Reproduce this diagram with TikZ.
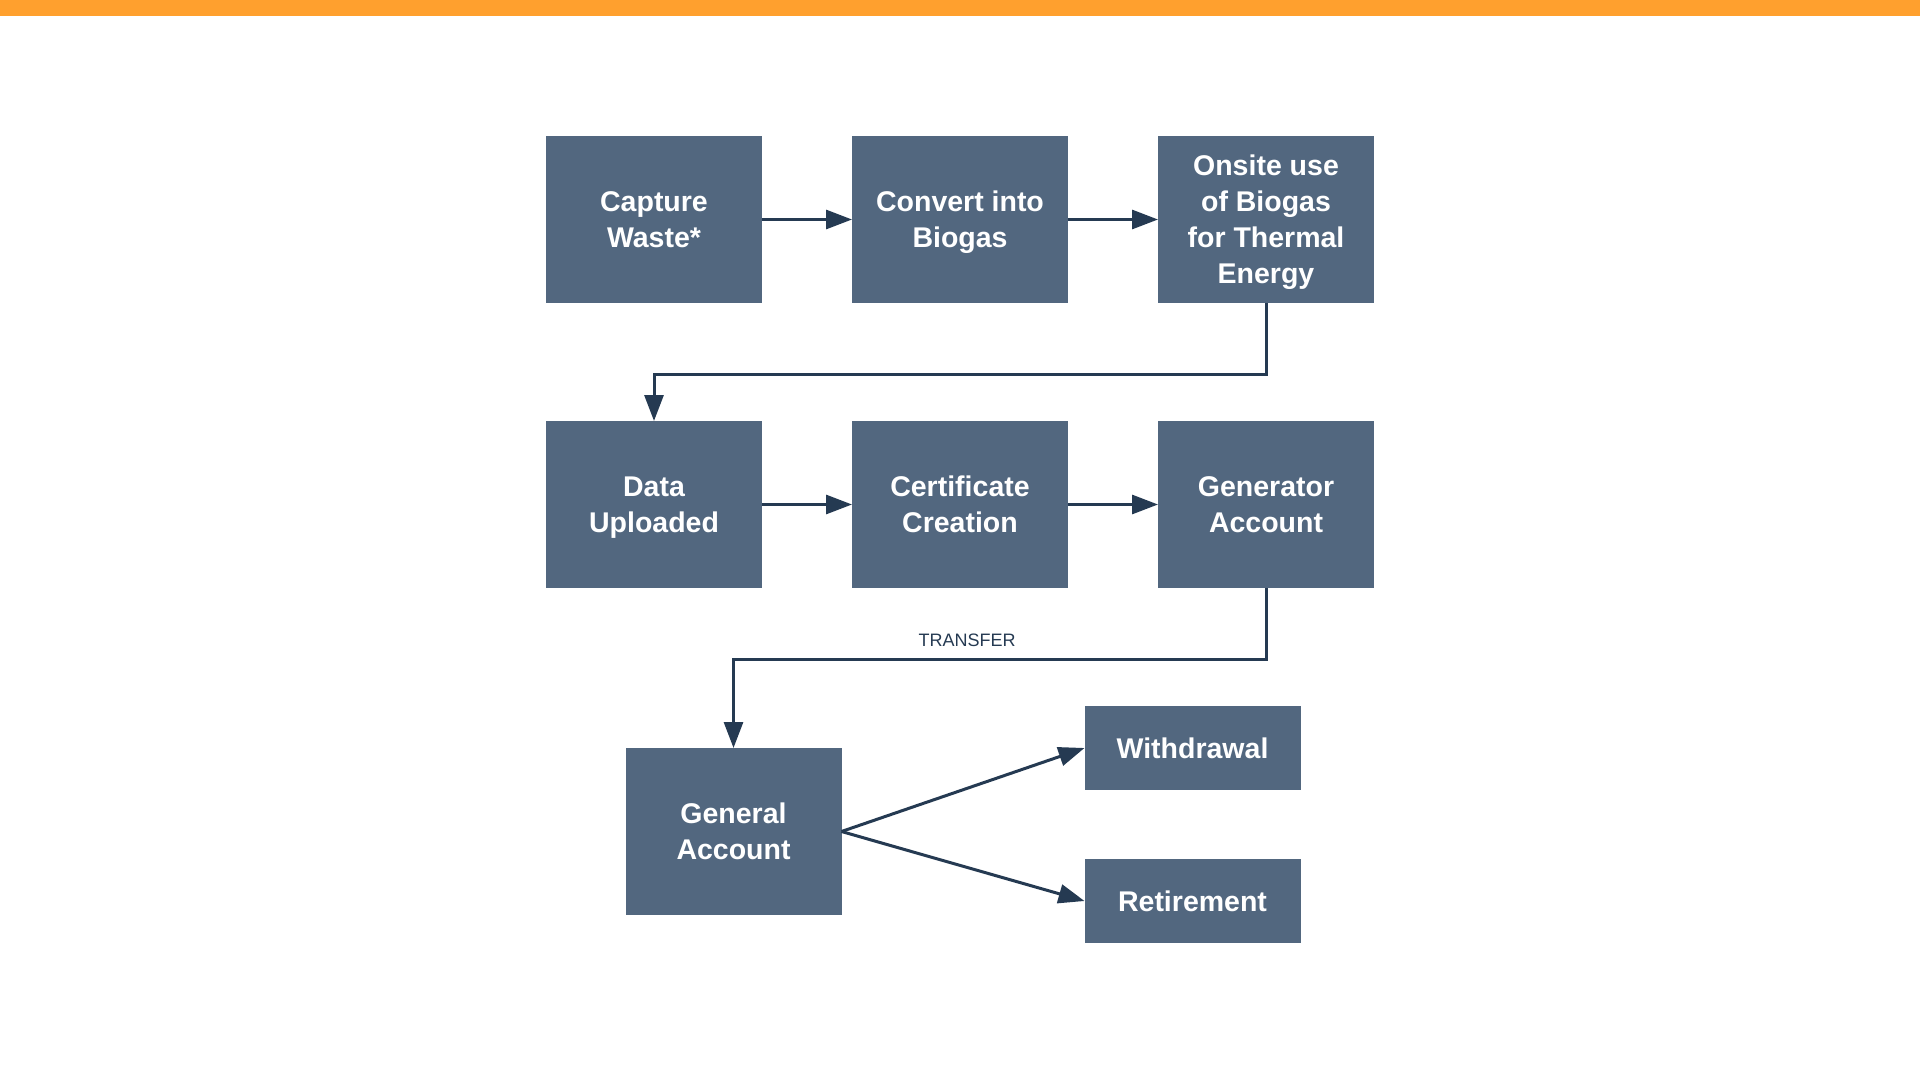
\documentclass[tikz,border=0pt]{standalone}
\usepackage{fontspec}
\setmainfont{Liberation Sans}
\usetikzlibrary{positioning,arrows.meta}
\definecolor{boxfill}{HTML}{52677F}
\definecolor{flowline}{HTML}{253A52}
\definecolor{topbar}{HTML}{FFA02E}

\tikzset{
    stepbox/.style={fill=boxfill, text=white, align=center, minimum width=108pt,
        minimum height=83.5pt, inner sep=0pt, outer sep=0pt, text depth=0pt,
        font=\bfseries\fontsize{14.25pt}{18pt}\selectfont},
    smallbox/.style={stepbox, minimum height=42pt},
    flow/.style={draw=flowline, line width=1.5pt, -{Triangle[length=13pt,width=9.5pt]}}
}

\begin{document}
\begin{tikzpicture}[x=0.5pt,y=-0.5pt]
                    % Frame and top bar
                    \useasboundingbox (0,0) rectangle (1920,1080);
                    \fill[topbar] (0,0) rectangle (1920,16);

                    % Row 1
                    \node[stepbox] (capture) at (654,219.5) {Capture\\Waste*};
                    \node[stepbox, right=45pt of capture] (convert) {Convert into\\Biogas};
                    \node[stepbox, right=45pt of convert] (onsite) {Onsite use\\of Biogas\\for Thermal\\Energy};

                    % Row 2
                    \node[stepbox, below=59pt of capture] (data) {Data\\Uploaded};
                    \node[stepbox, right=45pt of data] (cert) {Certificate\\Creation};
                    \node[stepbox, right=45pt of cert] (genacc) {Generator\\Account};

                    % Row 3
                    \node[stepbox] (general) at (733.5,831.5) {General\\Account};
                    \node[smallbox] (withdraw) at (1192.5,748) {Withdrawal};
                    \node[smallbox] (retire) at (1192.5,901) {Retirement};

                    % Connectors
                    \draw[flow] (capture) -- (convert);
                    \draw[flow] (convert) -- (onsite);
                    \draw[flow] (onsite.south) -- ++(0,71) -| (data.north);
                    \draw[flow] (data) -- (cert);
                    \draw[flow] (cert) -- (genacc);
                    \draw[flow] (genacc.south) -- ++(0,71) -| (general.north);
                    \draw[flow] (general.east) -- (withdraw.west);
                    \draw[flow] (general.east) -- (retire.west);

                    \node[text=flowline, font=\fontsize{9pt}{11pt}\selectfont] (transfer) at (967,640) {TRANSFER};
\end{tikzpicture}
\end{document}
